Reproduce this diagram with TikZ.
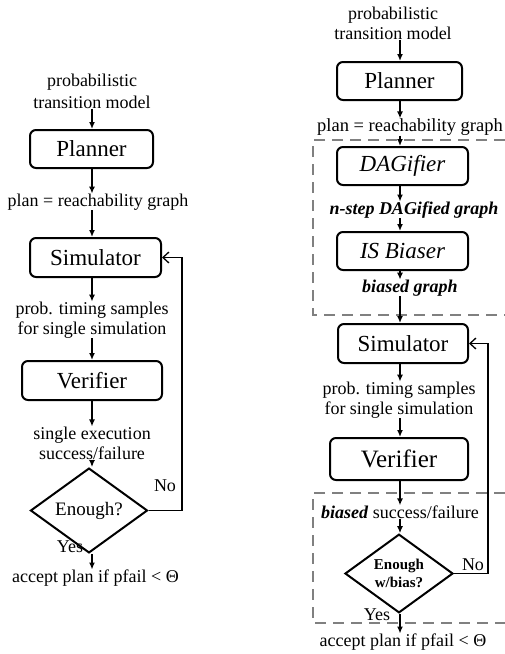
\documentclass[tikz,border=0pt]{standalone}
\usepackage{fontspec}
\setmainfont{Liberation Serif}
\usetikzlibrary{arrows.meta,shapes.geometric}

\tikzset{
  stage/.style={draw, line width=2pt, rounded corners=6pt, minimum height=38pt,
    inner sep=0pt, font=\fontsize{23}{25}\selectfont},
  note/.style={align=center, inner sep=0pt, font=\fontsize{18}{20}\selectfont},
  flow/.style={-{Latex[length=7pt,width=6pt]}, line width=1.5pt},
  loopback/.style={-{Straight Barb[length=6pt,width=11pt]}, line width=1.3pt},
  region/.style={gray, line width=2.5pt, dash pattern=on 11pt off 7pt},
  check/.style={diamond, draw, line width=2pt, inner sep=0pt, align=center},
}

\begin{document}
\begin{tikzpicture}[x=1pt, y=-1pt]
  \useasboundingbox (0,0) rectangle (505,654);
  % left: plain flow
  \coordinate (lcol) at (92,0);
  \coordinate (lturn) at (182,0);
  \node[note, font=\fontsize{18}{22}\selectfont] (lmodel) at (92,91) {probabilistic\\transition model};
  \node[stage, minimum width=123pt] (lplan) at (91.5,149) {Planner};
  \node[note] (lreach) at (98,202) {plan = reachability graph};
  \node[stage, minimum width=131pt, minimum height=39pt] (lsim) at (95.5,257.5) {Simulator};
  \node[note] (lsamp) at (92,320) {prob. timing samples\\for single simulation};
  \node[stage, minimum width=140pt, minimum height=39pt] (lver) at (92,380.5) {Verifier};
  \node[note] (lexec) at (92,443) {single execution\\success/failure};
  \node[check, minimum width=117pt, minimum height=53pt, font=\fontsize{19}{21}\selectfont] (lenough) at (89,510.5) {Enough?};
  \node[note] (laccept) at (95.5,578) {accept plan if pfail < Θ};
  \node[note] (lno) at (165,486) {No};
  \node[note] (lyes) at (70,547) {Yes};
  \draw[flow] (lmodel.south -| lcol) -- (lplan.north -| lcol);
  \draw[flow] (lplan.south -| lcol) -- (lreach.north -| lcol);
  \draw[flow] (lreach.south -| lcol) -- (lsim.north -| lcol);
  \draw[flow] (lsim.south -| lcol) -- (lsamp.north -| lcol);
  \draw[flow] (lsamp.south -| lcol) -- (lver.north -| lcol);
  \draw[flow] (lver.south -| lcol) -- (lexec.north -| lcol);
  \draw[flow] (lexec.south -| lcol) -- (lenough.north -| lcol);
  \draw[flow] (lenough.south -| lcol) -- (laccept.north -| lcol);
  \draw[loopback] (lenough.east) -- (lenough.east -| lturn) |- (lsim.east);

  % right: with DAGifier and biasing
  \coordinate (rcol) at (400,0);
  \coordinate (rturn) at (488,0);
  \draw[region] (505,140) -- (313,140) -- (313,315) -- (505,315);
  \draw[region] (505,493) -- (313,493) -- (313,623) -- (505,623);
  \node[note] (rmodel) at (393,23) {probabilistic\\transition model};
  \node[stage, minimum width=125pt] (rplan) at (399.5,81) {Planner};
  \node[note, font=\fontsize{18.5}{20}\selectfont] (rreach) at (410,127) {plan = reachability graph};
  \node[stage, minimum width=131pt, font=\fontsize{23}{25}\selectfont\itshape] (rdag) at (402.5,166) {DAGifier};
  \node[note, font=\fontsize{18}{20}\selectfont\bfseries\itshape] (rstep) at (414,210) {n-step DAGified graph};
  \node[stage, minimum width=131pt, font=\fontsize{23}{25}\selectfont\itshape] (rbias) at (402.5,251) {IS Biaser};
  \node[note, font=\fontsize{18}{20}\selectfont\bfseries\itshape] (rgraph) at (410,288) {biased graph};
  \node[stage, minimum width=130pt, minimum height=39pt] (rsim) at (403,343.5) {Simulator};
  \node[note] (rsamp) at (399,400) {prob. timing samples\\for single simulation};
  \node[stage, minimum width=138pt, minimum height=42pt, font=\fontsize{25}{27}\selectfont] (rver) at (399,459) {Verifier};
  \node[note] (rsucc) at (400,512) {\textbf{\textit{biased}} success/failure};
  \node[check, minimum width=108pt, minimum height=67pt, font=\fontsize{15}{18}\selectfont\bfseries] (renough) at (399,573.5) {Enough\\w/bias?};
  \node[note] (raccept) at (403,642) {accept plan if pfail < Θ};
  \node[note] (rno) at (473,565) {No};
  \node[note] (ryes) at (377,615) {Yes};
  \draw[flow] (rmodel.south -| rcol) -- (rplan.north -| rcol);
  \draw[flow] (rplan.south -| rcol) -- (rreach.north -| rcol);
  \draw[flow] (rreach.south -| rcol) -- (rdag.north -| rcol);
  \draw[flow] (rdag.south -| rcol) -- (rstep.north -| rcol);
  \draw[flow] (rstep.south -| rcol) -- (rbias.north -| rcol);
  \draw[flow] (rbias.south -| rcol) -- (rgraph.north -| rcol);
  \draw[flow] (rgraph.south -| rcol) -- (rsim.north -| rcol);
  \draw[flow] (rsim.south -| rcol) -- (rsamp.north -| rcol);
  \draw[flow] (rsamp.south -| rcol) -- (rver.north -| rcol);
  \draw[flow] (rver.south -| rcol) -- (rsucc.north -| rcol);
  \draw[flow] (rsucc.south -| rcol) -- (renough.north -| rcol);
  \draw[flow] (renough.south -| rcol) -- (raccept.north -| rcol);
  \draw[loopback] (renough.east) -- (renough.east -| rturn) |- (rsim.east);
\end{tikzpicture}
\end{document}
